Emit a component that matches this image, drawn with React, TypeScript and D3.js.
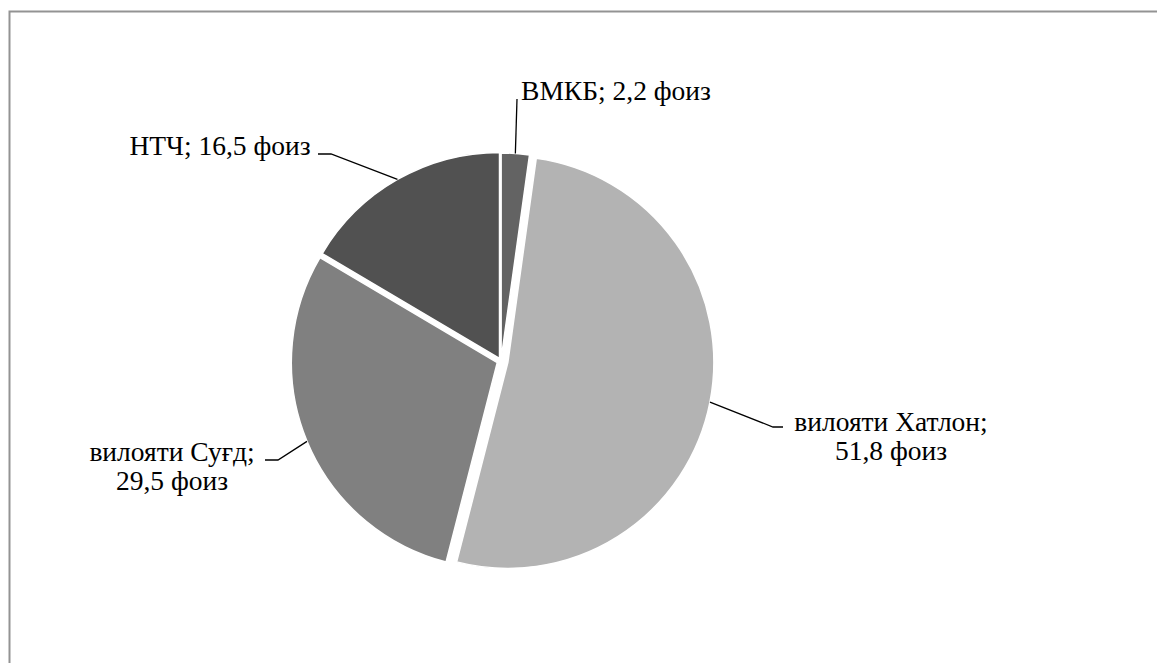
import * as d3 from "d3";
import React, { useEffect, useRef } from "react";

const CATEGORIES = ["ВМКБ", "вилояти Хатлон", "вилояти Суғд", "НТЧ"];
const VALUES = [2.2, 51.8, 29.5, 16.5];
const LABEL_LINES = [
  ["ВМКБ; 2,2 фоиз"],
  ["вилояти Хатлон;", "51,8 фоиз"],
  ["вилояти Суғд;", "29,5 фоиз"],
  ["НТЧ; 16,5 фоиз"],
];
const COLORS = ["#636363", "#b3b3b3", "#808080", "#515151"];

type Slice = { name: string; value: number; lines: string[]; color: string };

export default function App() {
  const svgRef = useRef<SVGSVGElement | null>(null);

  useEffect(() => {
    const width = 1157;
    const height = 663;
    const svg = d3.select(svgRef.current);
    svg.selectAll("*").remove();

    // chart frame (only top and left edges visible)
    svg.append("path")
      .attr("d", `M9.5,${height} V11.5 H${width}`)
      .attr("fill", "none")
      .attr("stroke", "#939393")
      .attr("stroke-width", 2);

    const data: Slice[] = CATEGORIES.map((name, i) => ({
      name, value: VALUES[i], lines: LABEL_LINES[i], color: COLORS[i],
    }));

    const cx = 501, cy = 361, r = 206;
    const explode = [2, 7, 4, 3];

    const pie = d3.pie<Slice>().sort(null).value(d => d.value);
    const arcs = pie(data);
    const arc = d3.arc<d3.PieArcDatum<Slice>>().innerRadius(0).outerRadius(r);

    const g = svg.append("g").attr("transform", `translate(${cx},${cy})`);

    const offset = (a: d3.PieArcDatum<Slice>, dist: number) => {
      const m = (a.startAngle + a.endAngle) / 2;
      return [Math.sin(m) * dist, -Math.cos(m) * dist];
    };

    g.selectAll("path.slice")
      .data(arcs)
      .join("path")
      .attr("class", "slice")
      .attr("transform", (d, i) => {
        const [dx, dy] = offset(d, explode[i]);
        return `translate(${dx},${dy})`;
      })
      .attr("d", arc)
      .attr("fill", d => d.data.color)
      .attr("stroke", "#fff")
      .attr("stroke-width", 1.5);

    // label layout: elbow, horizontal end, text centre, first baseline
    const layout = [
      { elbow: [517, 99], end: [517, 99], tx: 616, ty: 100 },
      { elbow: [773, 427], end: [783, 427], tx: 891, ty: 431 },
      { elbow: [278, 460], end: [265, 460], tx: 172, ty: 461 },
      { elbow: [331, 154], end: [318, 154], tx: 220, ty: 155 },
    ];

    const labels = svg.append("g");
    arcs.forEach((a, i) => {
      const L = layout[i];
      const [dx, dy] = offset(a, r + explode[i]);
      const start = [cx + dx, cy + dy];
      labels.append("path")
        .attr("d", d3.line()([start as [number, number], L.elbow as [number, number], L.end as [number, number]]))
        .attr("fill", "none")
        .attr("stroke", "#000")
        .attr("stroke-width", 1.3);
      const t = labels.append("text")
        .attr("text-anchor", "middle")
        .attr("font-family", "'Liberation Serif', 'Times New Roman', serif")
        .attr("font-size", 27.5)
        .attr("fill", "#000");
      a.data.lines.forEach((ln, k) => {
        t.append("tspan").attr("x", L.tx).attr("y", L.ty + k * 29).text(ln);
      });
    });
  }, []);

  return (
    <div style={{ position: "fixed", left: 0, top: 0, width: 1157, height: 663, background: "#fff" }}>
      <svg ref={svgRef} width={1157} height={663} />
    </div>
  );
}
